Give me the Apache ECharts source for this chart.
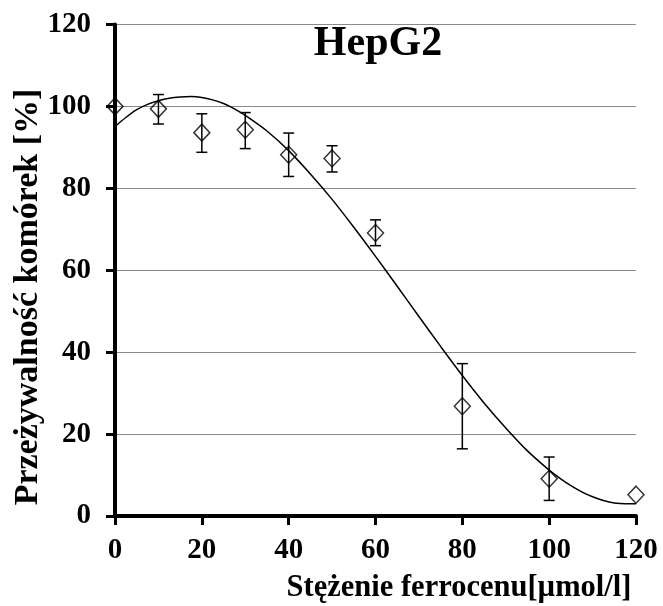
<!DOCTYPE html>
<html>
<head>
<meta charset="utf-8">
<script src="https://cdn.jsdelivr.net/npm/echarts@6/dist/echarts.min.js"></script>
<style>
html,body{margin:0;padding:0;background:#fff;}
#chart{width:663px;height:606px;}
</style>
</head>
<body>
<div id="chart"></div>
<script>
// Measured points (concentration, viability %, error low, error high)
var concentrations = [0, 10, 20, 30, 40, 50, 60, 80, 100, 120];
var viability      = [100, 99.4, 93.6, 94.3, 88.2, 87.3, 69.1, 26.8, 9.1, 5.2];
var errLow         = [null, 95.7, 88.8, 89.7, 82.9, 84.0, 66.0, 16.4, 3.8, null];
var errHigh        = [null, 102.9, 98.2, 98.5, 93.5, 90.4, 72.3, 37.2, 14.4, null];

// Trend line
var trendX = [0, 2.5, 5, 7.5, 10, 12.5, 15, 17.5, 20, 22.5, 25, 27.5, 30, 35, 40, 45, 50, 55, 60, 65, 70, 75, 80, 85, 90, 95, 100, 102.5, 105, 107.5, 110, 112.5, 115, 117.5, 120];
var trendY = [95.1, 97.3, 99.2, 100.5, 101.4, 102.0, 102.3, 102.4, 102.2, 101.6, 100.7, 99.4, 97.8, 94.0, 89.2, 83.5, 77.3, 70.5, 63.4, 56.1, 48.7, 41.4, 34.3, 27.6, 21.5, 15.9, 11.2, 9.2, 7.4, 5.9, 4.7, 3.8, 3.2, 3.0, 3.0];

var tickValues = [0, 20, 40, 60, 80, 100, 120];

var titleText = 'HepG2';
var xTitle = 'Stężenie ferrocenu[µmol/l]';
var yTitle = 'Przeżywalność komórek [%]';

var FONT = '"Liberation Serif", "Times New Roman", serif';

var pts = concentrations.map(function (x, i) { return [x, viability[i]]; });
var errData = [];
concentrations.forEach(function (x, i) {
  if (errLow[i] != null) errData.push([x, errLow[i], errHigh[i]]);
});
var trend = trendX.map(function (x, i) { return [x, trendY[i]]; });

var chart = echarts.init(document.getElementById('chart'), null, {renderer: 'canvas'});
chart.setOption({
  animation: false,
  backgroundColor: '#fff',
  grid: {left: 115, right: 27, top: 24.5, bottom: 90, containLabel: false},
  xAxis: {
    type: 'value', min: 0, max: 120, interval: 20,
    axisLine: {show: true, onZero: false, lineStyle: {color: '#000', width: 4}},
    axisTick: {show: true, inside: false, length: 9, lineStyle: {color: '#000', width: 3}},
    axisLabel: {color: '#000', fontFamily: FONT, fontWeight: 'bold', fontSize: 29, margin: 20,
      formatter: function (v) { return tickValues.indexOf(v) >= 0 ? String(v) : ''; }},
    splitLine: {show: false}
  },
  yAxis: {
    type: 'value', min: 0, max: 120, interval: 20,
    axisLine: {show: true, onZero: false, lineStyle: {color: '#000', width: 4}},
    axisTick: {show: true, inside: false, length: 9, lineStyle: {color: '#000', width: 3}},
    axisLabel: {color: '#000', fontFamily: FONT, fontWeight: 'bold', fontSize: 29, margin: 24},
    splitLine: {show: true, lineStyle: {color: '#8a8a8a', width: 1.2}}
  },
  graphic: [
    {type: 'text', x: 378, y: 44, z: 10,
      style: {text: titleText, font: 'bold 42px ' + FONT, fill: '#000', align: 'center', verticalAlign: 'middle'}},
    {type: 'text', x: 459, y: 588, z: 10,
      style: {text: xTitle, font: 'bold 30.5px ' + FONT, fill: '#000', align: 'center', verticalAlign: 'middle'}},
    {type: 'text', x: 28, y: 297, rotation: Math.PI / 2, z: 10,
      style: {text: yTitle, font: 'bold 34px ' + FONT, fill: '#000', align: 'center', verticalAlign: 'middle'}}
  ],
  series: [
    {
      type: 'line', data: trend, smooth: 0.25, symbol: 'none', z: 2,
      lineStyle: {color: '#000', width: 1.5}
    },
    {
      type: 'custom', z: 3,
      data: errData,
      renderItem: function (params, api) {
        var x = api.value(0);
        var lo = api.coord([x, api.value(1)]);
        var hi = api.coord([x, api.value(2)]);
        var hw = 5.5;
        var st = {stroke: '#000', lineWidth: 1.5};
        return {
          type: 'group',
          children: [
            {type: 'line', shape: {x1: lo[0], y1: lo[1], x2: hi[0], y2: hi[1]}, style: st},
            {type: 'line', shape: {x1: lo[0] - hw, y1: lo[1], x2: lo[0] + hw, y2: lo[1]}, style: st},
            {type: 'line', shape: {x1: hi[0] - hw, y1: hi[1], x2: hi[0] + hw, y2: hi[1]}, style: st}
          ]
        };
      }
    },
    {
      type: 'scatter', data: pts, symbol: 'diamond', symbolSize: [16, 17], z: 4,
      itemStyle: {color: 'rgba(255,255,255,0)', borderColor: '#000', borderWidth: 1.5}
    }
  ]
});
</script>
</body>
</html>
